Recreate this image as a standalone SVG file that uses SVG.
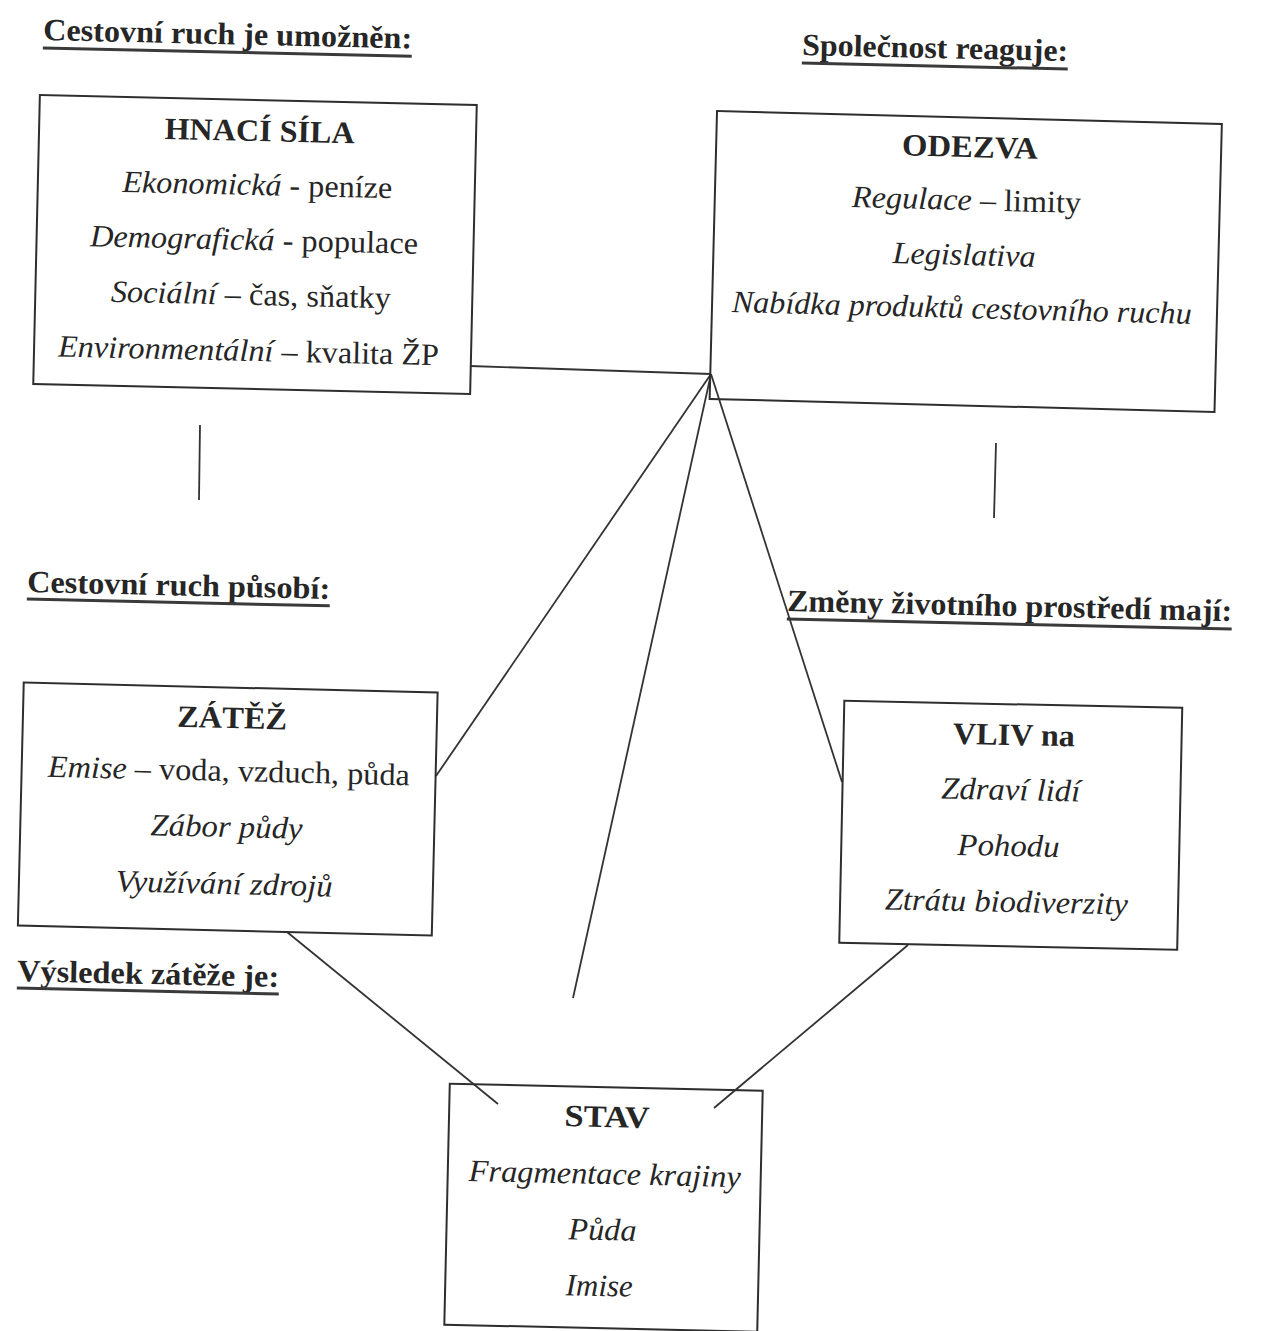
<svg xmlns="http://www.w3.org/2000/svg" width="1267" height="1331" viewBox="0 0 1267 1331">
<style>
.bg{fill:#ffffff}
.box{fill:none;stroke:#2e2e2e;stroke-width:2}
.ln{stroke:#333333;stroke-width:1.8;fill:none}
.ul{stroke:#3a3a3a;stroke-width:3}
.hd{font-family:'Liberation Serif','Times New Roman',Times,serif;font-weight:bold;font-size:31px;fill:#262626}
.tt{font-family:'Liberation Serif','Times New Roman',Times,serif;font-weight:bold;font-size:31px;fill:#262626;text-anchor:middle}
.tx{font-family:'Liberation Serif','Times New Roman',Times,serif;font-size:31px;fill:#262626;text-anchor:middle}
.i{font-style:italic}
</style>
<rect class="bg" x="0" y="0" width="1267" height="1331"/>

<g id="labels">
  <g transform="rotate(1.3 43 40)">
    <text class="hd" x="43" y="40" textLength="369" lengthAdjust="spacingAndGlyphs">Cestovní ruch je umožněn:</text>
    <line class="ul" x1="43" y1="48" x2="412" y2="48"/>
  </g>
  <g transform="rotate(1.3 802 55)">
    <text class="hd" x="802" y="55" textLength="266" lengthAdjust="spacingAndGlyphs">Společnost reaguje:</text>
    <line class="ul" x1="802" y1="63" x2="1068" y2="63"/>
  </g>
  <g transform="rotate(1.3 27 592)">
    <text class="hd" x="27" y="592" textLength="303" lengthAdjust="spacingAndGlyphs">Cestovní ruch působí:</text>
    <line class="ul" x1="27" y1="599" x2="330" y2="599"/>
  </g>
  <g transform="rotate(1.3 787 611)">
    <text class="hd" x="787" y="611" textLength="445" lengthAdjust="spacingAndGlyphs">Změny životního prostředí mají:</text>
    <line class="ul" x1="787" y1="619" x2="1232" y2="619"/>
  </g>
  <g transform="rotate(1.3 17 981)">
    <text class="hd" x="17" y="981" textLength="262" lengthAdjust="spacingAndGlyphs">Výsledek zátěže je:</text>
    <line class="ul" x1="17" y1="988" x2="279" y2="988"/>
  </g>
</g>

<g id="connectors">
  <line class="ln" x1="470" y1="366" x2="711" y2="374"/>
  <line class="ln" x1="711" y1="374" x2="436" y2="776"/>
  <line class="ln" x1="711" y1="374" x2="573" y2="998"/>
  <line class="ln" x1="711" y1="374" x2="842" y2="782"/>
  <line class="ln" x1="200" y1="425" x2="199" y2="500"/>
  <line class="ln" x1="996" y1="443" x2="994" y2="518"/>
  <line class="ln" x1="287" y1="932" x2="498" y2="1104"/>
  <line class="ln" x1="908" y1="945" x2="714" y2="1108"/>
</g>

<g id="hnaci-sila" transform="rotate(1.31 255 244.5)">
  <rect class="box" x="36.5" y="100" width="437" height="289"/>
  <text class="tt" x="257" y="141" textLength="190" lengthAdjust="spacingAndGlyphs">HNACÍ SÍLA</text>
  <text class="tx" x="256" y="195" textLength="270" lengthAdjust="spacingAndGlyphs"><tspan class="i">Ekonomická</tspan> - peníze</text>
  <text class="tx" x="254" y="250" textLength="328" lengthAdjust="spacingAndGlyphs"><tspan class="i">Demografická</tspan> - populace</text>
  <text class="tx" x="252" y="305" textLength="280" lengthAdjust="spacingAndGlyphs"><tspan class="i">Sociální</tspan> – čas, sňatky</text>
  <text class="tx" x="251" y="361" textLength="381" lengthAdjust="spacingAndGlyphs"><tspan class="i">Environmentální</tspan> – kvalita ŽP</text>
</g>

<g id="odezva" transform="rotate(1.47 965.75 261.5)">
  <rect class="box" x="713.25" y="117.5" width="505" height="288"/>
  <text class="tt" x="967" y="157" textLength="136" lengthAdjust="spacingAndGlyphs">ODEZVA</text>
  <text class="tx" x="965" y="210" textLength="229" lengthAdjust="spacingAndGlyphs"><tspan class="i">Regulace</tspan> – limity</text>
  <text class="tx" x="964" y="265" textLength="143" lengthAdjust="spacingAndGlyphs"><tspan class="i">Legislativa</tspan></text>
  <text class="tx" x="963" y="318" textLength="460" lengthAdjust="spacingAndGlyphs"><tspan class="i">Nabídka produktů cestovního ruchu</tspan></text>
</g>

<g id="zatez" transform="rotate(1.38 227.75 809)">
  <rect class="box" x="20.75" y="687.5" width="414" height="243"/>
  <text class="tt" x="230" y="728" textLength="110" lengthAdjust="spacingAndGlyphs">ZÁTĚŽ</text>
  <text class="tx" x="228" y="781" textLength="362" lengthAdjust="spacingAndGlyphs"><tspan class="i">Emise</tspan> – voda, vzduch, půda</text>
  <text class="tx" x="227" y="837" textLength="152" lengthAdjust="spacingAndGlyphs"><tspan class="i">Zábor půdy</tspan></text>
  <text class="tx" x="226" y="894" textLength="217" lengthAdjust="spacingAndGlyphs"><tspan class="i">Využívání zdrojů</tspan></text>
</g>

<g id="vliv" transform="rotate(1.2 1010.75 825.25)">
  <rect class="box" x="841.75" y="704.25" width="338" height="242"/>
  <text class="tt" x="1012" y="745" textLength="122" lengthAdjust="spacingAndGlyphs">VLIV na</text>
  <text class="tx" x="1010" y="800" textLength="139" lengthAdjust="spacingAndGlyphs"><tspan class="i">Zdraví lidí</tspan></text>
  <text class="tx" x="1009" y="856" textLength="102" lengthAdjust="spacingAndGlyphs"><tspan class="i">Pohodu</tspan></text>
  <text class="tx" x="1008" y="912" textLength="243" lengthAdjust="spacingAndGlyphs"><tspan class="i">Ztrátu biodiverzity</tspan></text>
</g>

<g id="stav" transform="rotate(1.3 603.5 1207.75)">
  <rect class="box" x="447" y="1087.25" width="313" height="241"/>
  <text class="tt" x="605" y="1127" textLength="85" lengthAdjust="spacingAndGlyphs">STAV</text>
  <text class="tx" x="604" y="1184" textLength="272" lengthAdjust="spacingAndGlyphs"><tspan class="i">Fragmentace krajiny</tspan></text>
  <text class="tx" x="603" y="1240" textLength="68" lengthAdjust="spacingAndGlyphs"><tspan class="i">Půda</tspan></text>
  <text class="tx" x="601" y="1296" textLength="67" lengthAdjust="spacingAndGlyphs"><tspan class="i">Imise</tspan></text>
</g>
</svg>
